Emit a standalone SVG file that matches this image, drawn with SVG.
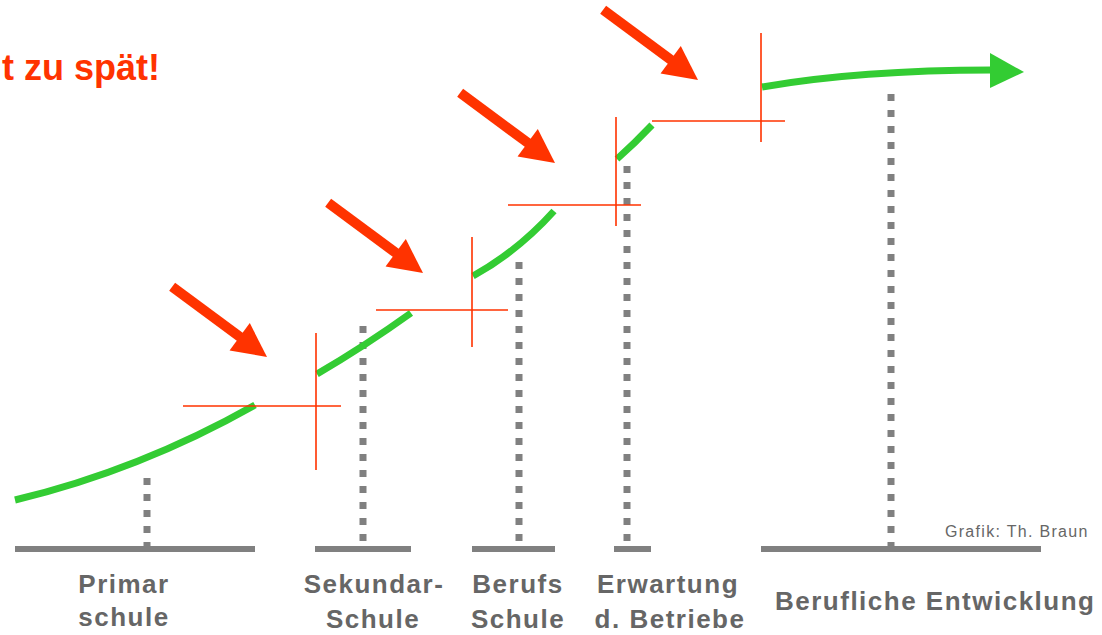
<svg xmlns="http://www.w3.org/2000/svg" width="1102" height="635" viewBox="0 0 1102 635">
<defs>
<style>
.bar{fill:#808080}
.dot{stroke:#808080;stroke-width:7;stroke-dasharray:7 9;fill:none}
.grn{stroke:#33cc33;stroke-width:7;fill:none;stroke-linecap:butt}
.red{stroke:#ff3300;stroke-width:1.6;fill:none}
.lbl{font-family:"Liberation Sans",Arial,sans-serif;font-weight:bold;font-size:26px;fill:#666;letter-spacing:1.5px}
.title{font-family:"Liberation Sans",Arial,sans-serif;font-weight:bold;font-size:36px;fill:#ff3300}
.credit{font-family:"Liberation Sans",Arial,sans-serif;font-size:16px;fill:#666;letter-spacing:1.3px}
</style>
<g id="redArrow">
<rect x="-118" y="-5" width="90" height="10" fill="#ff3300"/>
<polygon points="0,0 -34,-17 -34,17" fill="#ff3300"/>
</g>
</defs>
<rect width="1102" height="635" fill="#ffffff"/>

<text class="title" x="2" y="80">t zu spät!</text>

<g id="baselines">
<rect class="bar" x="15" y="546" width="240" height="6"/>
<rect class="bar" x="315" y="546" width="96" height="6"/>
<rect class="bar" x="472" y="546" width="83" height="6"/>
<rect class="bar" x="614" y="546" width="37" height="6"/>
<rect class="bar" x="761" y="546" width="280" height="6"/>
</g>

<g id="dotted">
<path class="dot" d="M147,478 V546"/>
<path class="dot" d="M363,326 V546"/>
<path class="dot" d="M519,262 V546"/>
<path class="dot" d="M627,166 V546"/>
<path class="dot" d="M891,94 V546"/>
</g>

<g id="connectors">
<path class="grn" d="M15,500 Q140,470 255,405"/>
<path class="grn" d="M317,374 Q365,346 411,313"/>
<path class="grn" d="M473,276 Q518,251 554,211"/>
<path class="grn" d="M617,159 Q635,143 652,125"/>
<path class="grn" d="M762,87 Q860,70 992,70"/>
<polygon points="990,53 1024,72 990,88" fill="#33cc33"/>
</g>

<g id="crosses">
<path class="red" d="M183,406 H341 M316,333 V470"/>
<path class="red" d="M376,310 H508 M472,237 V347"/>
<path class="red" d="M508,205 H641 M616,117 V226"/>
<path class="red" d="M652,121 H785 M761,33 V142"/>
</g>

<g id="arrows">
<use href="#redArrow" transform="translate(267,357) rotate(36.5)"/>
<use href="#redArrow" transform="translate(423,273) rotate(36.5)"/>
<use href="#redArrow" transform="translate(555,163) rotate(36.5)"/>
<use href="#redArrow" transform="translate(698,80) rotate(36.5)"/>
</g>

<g id="node-primar">
<text class="lbl" x="124" y="593" text-anchor="middle">Primar</text>
<text class="lbl" x="124" y="626" text-anchor="middle">schule</text>
</g>
<g id="node-sekundar">
<text class="lbl" x="374" y="593" text-anchor="middle">Sekundar-</text>
<text class="lbl" x="373" y="628" text-anchor="middle">Schule</text>
</g>
<g id="node-berufs">
<text class="lbl" x="518" y="593" text-anchor="middle">Berufs</text>
<text class="lbl" x="518" y="628" text-anchor="middle">Schule</text>
</g>
<g id="node-erwartung">
<text class="lbl" x="668" y="593" text-anchor="middle">Erwartung</text>
<text class="lbl" x="670" y="628" text-anchor="middle">d. Betriebe</text>
</g>
<g id="node-beruflich">
<text class="lbl" x="775" y="610">Berufliche Entwicklung</text>
</g>
<text class="credit" x="945" y="537">Grafik: Th. Braun</text>
</svg>
